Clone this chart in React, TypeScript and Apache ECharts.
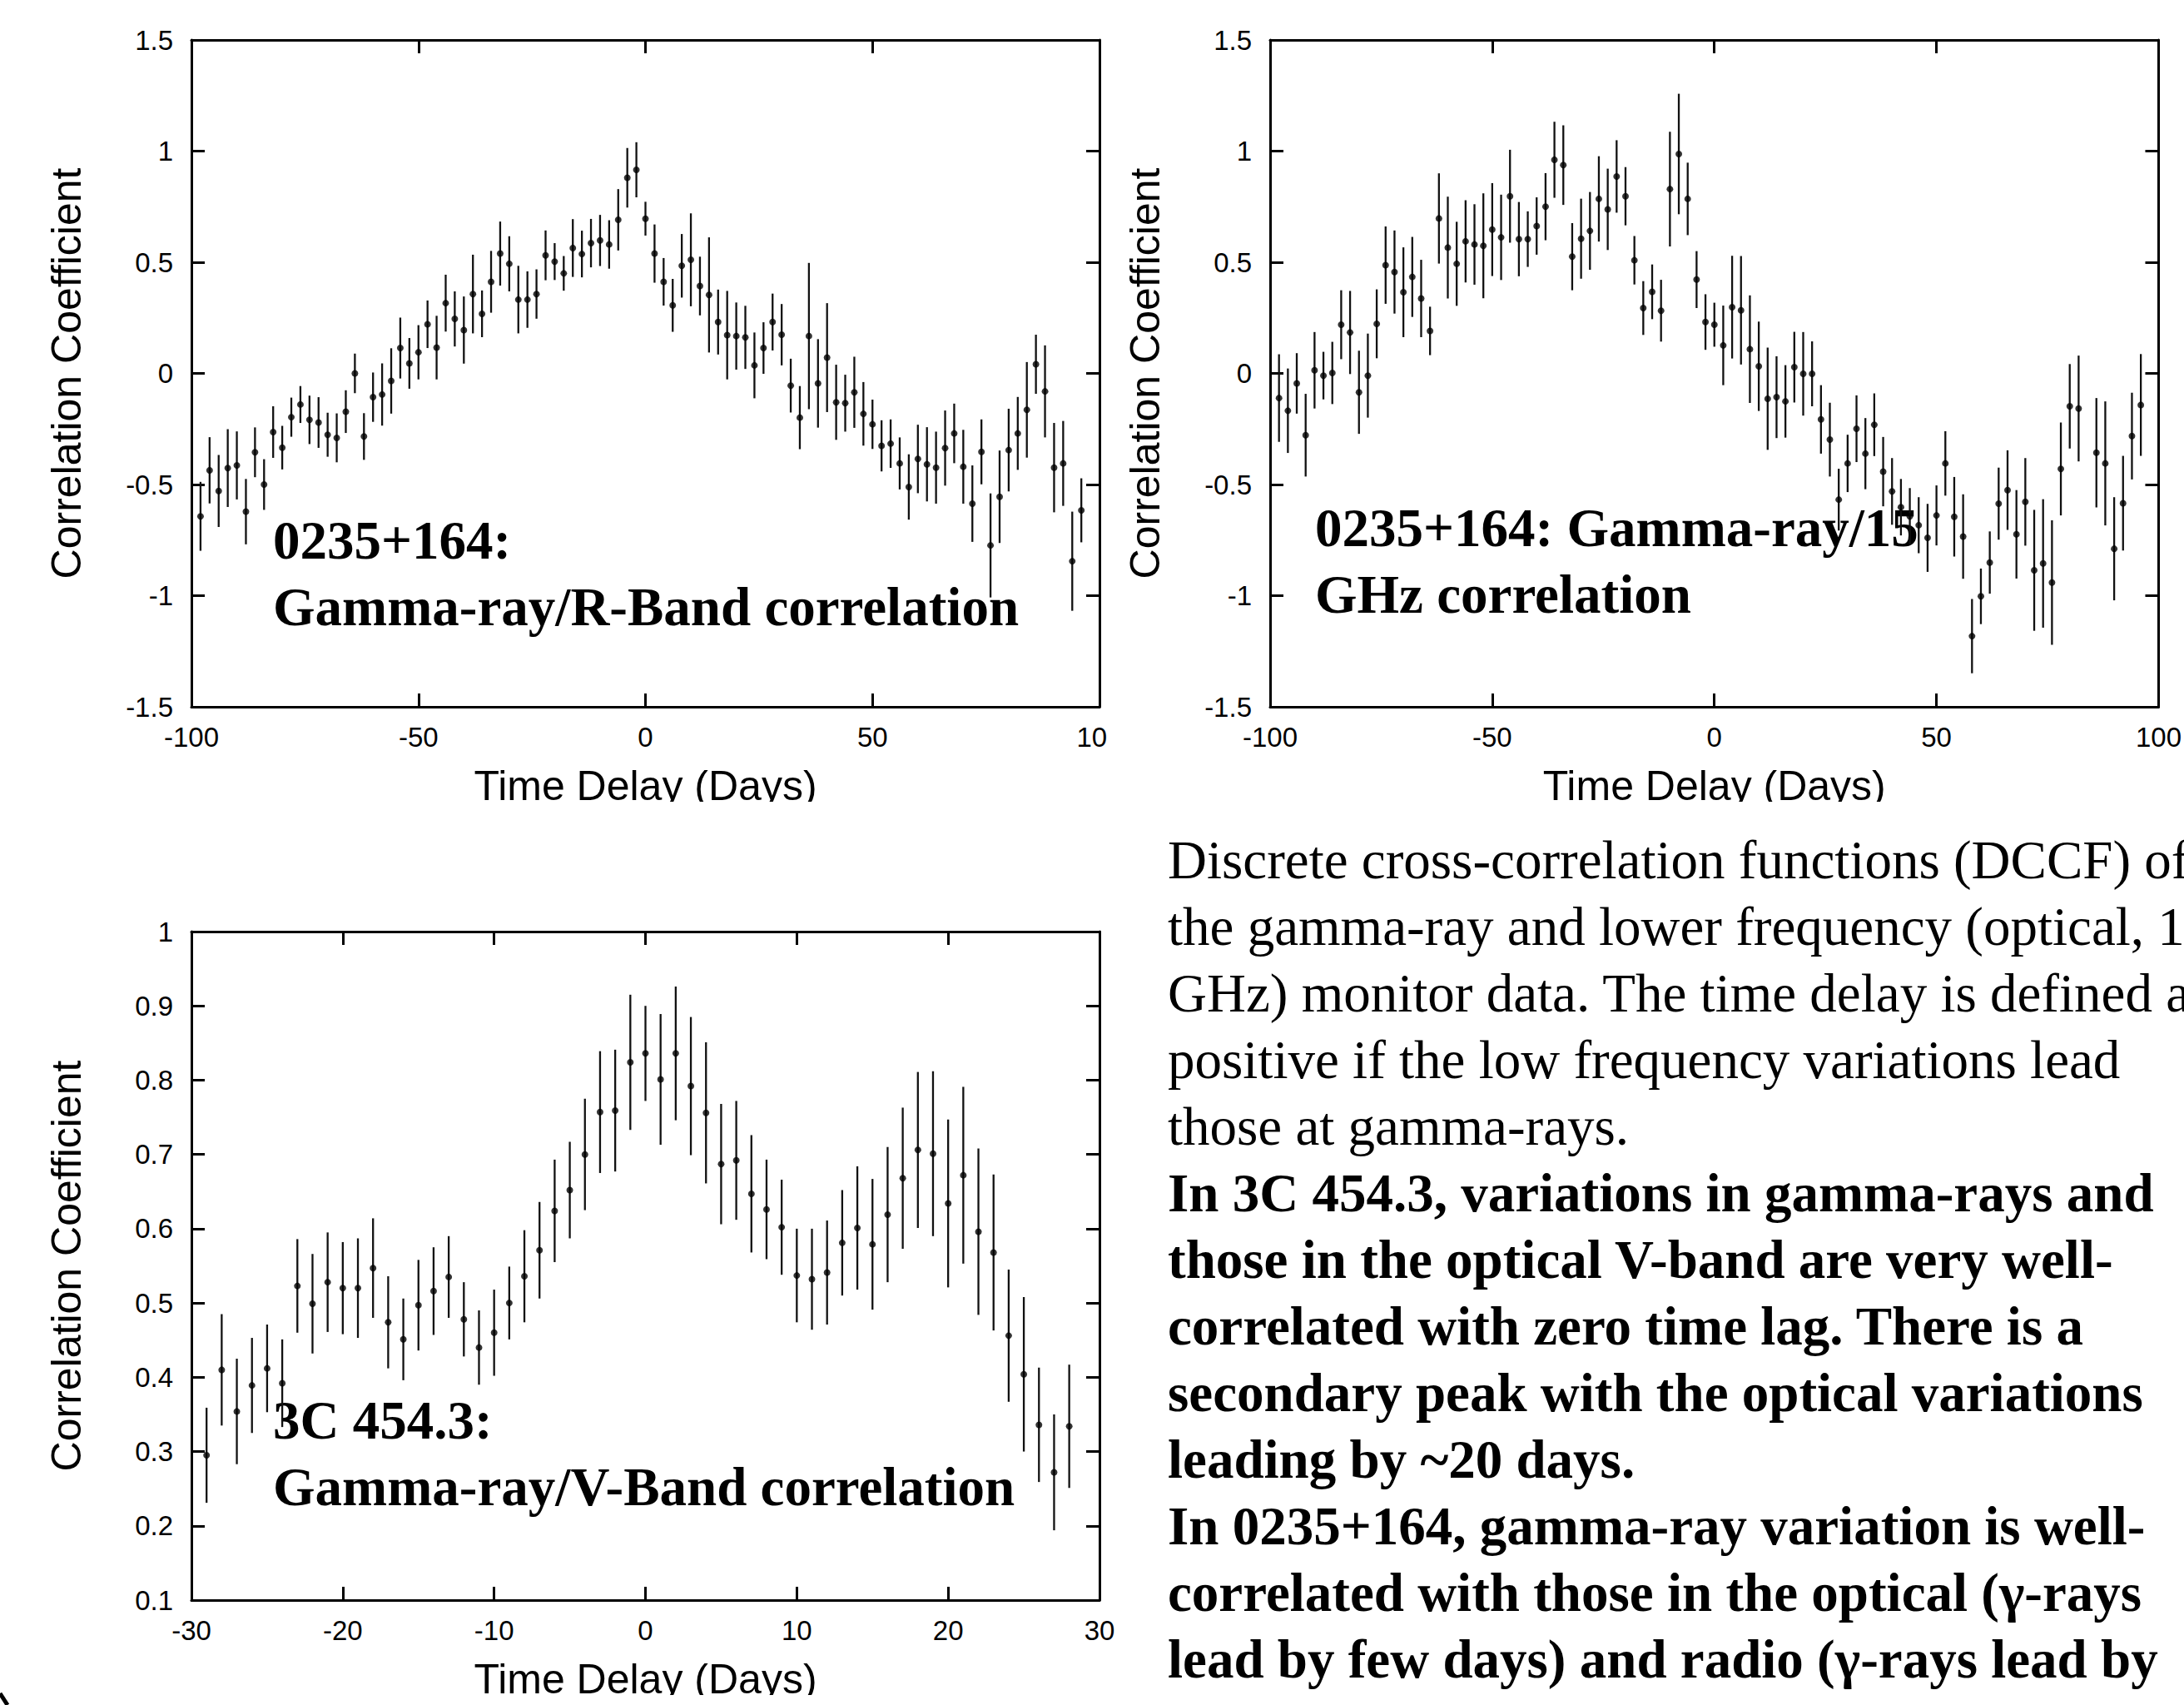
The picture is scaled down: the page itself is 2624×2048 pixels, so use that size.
import React, { useEffect, useRef } from "react";
import * as echarts from "echarts";

// ---------- DATA ----------
// Panel 1: 0235+164 gamma-ray / R-band DCCF
const lagsRBand = [-98,-96,-94,-92,-90,-88,-86,-84,-82,-80,-78,-76,-74,-72,-70,-68,-66,-64,-62,-60,-58,-56,-54,-52,-50,-48,-46,-44,-42,-40,-38,-36,-34,-32,-30,-28,-26,-24,-22,-20,-18,-16,-14,-12,-10,-8,-6,-4,-2,0,2,4,6,8,10,12,14,16,18,20,22,24,26,28,30,32,34,36,38,40,42,44,46,48,50,52,54,56,58,60,62,64,66,68,70,72,74,76,78,80,82,84,86,88,90,92,94,96];
const corrRBand = [-0.643,-0.436,-0.529,-0.426,-0.414,-0.622,-0.355,-0.500,-0.264,-0.334,-0.197,-0.140,-0.209,-0.221,-0.276,-0.290,-0.172,0.000,-0.284,-0.107,-0.095,-0.034,0.114,0.045,0.095,0.221,0.116,0.316,0.245,0.195,0.357,0.268,0.412,0.539,0.493,0.332,0.332,0.357,0.531,0.503,0.450,0.564,0.537,0.586,0.598,0.580,0.691,0.880,0.916,0.696,0.539,0.412,0.306,0.484,0.511,0.393,0.353,0.231,0.172,0.168,0.162,0.036,0.114,0.231,0.174,-0.055,-0.199,0.168,-0.045,0.071,-0.130,-0.134,-0.085,-0.182,-0.229,-0.326,-0.316,-0.405,-0.511,-0.385,-0.409,-0.424,-0.336,-0.270,-0.420,-0.586,-0.353,-0.774,-0.555,-0.345,-0.270,-0.164,0.041,-0.081,-0.424,-0.405,-0.845,-0.616];
const errRBand = [0.155,0.149,0.162,0.175,0.153,0.147,0.112,0.114,0.116,0.098,0.088,0.083,0.109,0.114,0.099,0.110,0.096,0.089,0.105,0.111,0.140,0.147,0.137,0.114,0.122,0.107,0.143,0.128,0.124,0.151,0.177,0.105,0.139,0.144,0.124,0.152,0.127,0.111,0.112,0.083,0.078,0.130,0.105,0.109,0.115,0.109,0.138,0.134,0.124,0.076,0.131,0.107,0.119,0.143,0.209,0.132,0.259,0.146,0.199,0.151,0.142,0.148,0.116,0.128,0.138,0.121,0.142,0.329,0.199,0.245,0.169,0.128,0.160,0.143,0.111,0.115,0.109,0.117,0.147,0.154,0.167,0.162,0.169,0.134,0.166,0.172,0.146,0.234,0.208,0.186,0.164,0.215,0.133,0.207,0.201,0.191,0.223,0.144];

// Panel 2: 0235+164 gamma-ray / 15 GHz DCCF
const lagsRadio = [-98,-96,-94,-92,-90,-88,-86,-84,-82,-80,-78,-76,-74,-72,-70,-68,-66,-64,-62,-60,-58,-56,-54,-52,-50,-48,-46,-44,-42,-40,-38,-36,-34,-32,-30,-28,-26,-24,-22,-20,-18,-16,-14,-12,-10,-8,-6,-4,-2,0,2,4,6,8,10,12,14,16,18,20,22,24,26,28,30,32,34,36,38,40,42,44,46,48,50,52,54,56,58,60,62,64,66,68,70,72,74,76,78,80,82,86,88,90,92,94,96];
const corrRadio = [-0.111,-0.168,-0.045,-0.278,0.014,-0.010,0.002,0.219,0.184,-0.085,-0.010,0.223,0.487,0.456,0.365,0.434,0.337,0.191,0.697,0.566,0.493,0.594,0.580,0.574,0.647,0.612,0.797,0.604,0.604,0.663,0.750,0.961,0.937,0.525,0.606,0.641,0.785,0.738,0.886,0.797,0.509,0.294,0.367,0.282,0.829,0.987,0.785,0.422,0.231,0.219,0.126,0.298,0.284,0.109,0.032,-0.114,-0.107,-0.126,0.028,-0.002,-0.002,-0.207,-0.298,-0.568,-0.405,-0.249,-0.361,-0.231,-0.442,-0.531,-0.602,-0.643,-0.683,-0.740,-0.639,-0.405,-0.645,-0.734,-1.182,-1.003,-0.851,-0.586,-0.525,-0.724,-0.578,-0.886,-0.855,-0.941,-0.430,-0.148,-0.158,-0.357,-0.405,-0.789,-0.584,-0.282,-0.142];
const errRadio = [0.197,0.190,0.136,0.186,0.172,0.107,0.140,0.155,0.187,0.187,0.189,0.155,0.174,0.187,0.202,0.180,0.174,0.109,0.203,0.229,0.189,0.185,0.181,0.236,0.209,0.192,0.209,0.167,0.125,0.129,0.151,0.171,0.179,0.151,0.180,0.175,0.192,0.183,0.163,0.131,0.109,0.121,0.123,0.139,0.258,0.271,0.163,0.128,0.125,0.099,0.179,0.231,0.244,0.242,0.201,0.230,0.184,0.163,0.159,0.188,0.146,0.154,0.166,0.139,0.129,0.150,0.160,0.141,0.156,0.150,0.127,0.127,0.126,0.153,0.135,0.145,0.179,0.190,0.167,0.125,0.140,0.162,0.179,0.199,0.197,0.272,0.289,0.280,0.209,0.190,0.238,0.246,0.279,0.232,0.213,0.195,0.229];

// Panel 3: 3C 454.3 gamma-ray / V-band DCCF
const lags3C = [-29,-28,-27,-26,-25,-24,-23,-22,-21,-20,-19,-18,-17,-16,-15,-14,-13,-12,-11,-10,-9,-8,-7,-6,-5,-4,-3,-2,-1,0,1,2,3,4,5,6,7,8,9,10,11,12,13,14,15,16,17,18,19,20,21,22,23,24,25,26,27,28];
const corr3C = [0.295,0.410,0.354,0.389,0.412,0.392,0.523,0.499,0.528,0.520,0.520,0.547,0.474,0.451,0.497,0.516,0.535,0.478,0.440,0.460,0.500,0.536,0.571,0.624,0.652,0.700,0.757,0.759,0.824,0.836,0.801,0.836,0.792,0.756,0.687,0.692,0.647,0.626,0.602,0.537,0.532,0.541,0.581,0.601,0.579,0.619,0.668,0.706,0.701,0.634,0.672,0.596,0.568,0.456,0.404,0.336,0.272,0.334];
const err3C = [0.064,0.075,0.071,0.064,0.059,0.059,0.063,0.067,0.067,0.062,0.067,0.067,0.062,0.055,0.061,0.059,0.055,0.050,0.050,0.058,0.049,0.062,0.065,0.069,0.065,0.075,0.082,0.082,0.091,0.064,0.088,0.090,0.093,0.095,0.081,0.080,0.079,0.067,0.064,0.063,0.068,0.070,0.071,0.083,0.088,0.091,0.095,0.105,0.111,0.113,0.119,0.112,0.105,0.089,0.104,0.077,0.078,0.083];

// Axis ranges
const xRangeLong = { min: -100, max: 100, interval: 50 };
const yRangeLong = { min: -1.5, max: 1.5, interval: 0.5 };
const xRange3C = { min: -30, max: 30, interval: 10 };
const yRange3C = { min: 0.1, max: 1.0, interval: 0.1 };

// Texts
const xTitle = "Time Delay (Days)";
const yTitle = "Correlation Coefficient";
const label1 = ["0235+164:", "Gamma-ray/R-Band correlation"];
const label2 = ["0235+164: Gamma-ray/15", "GHz correlation"];
const label3 = ["3C 454.3:", "Gamma-ray/V-Band correlation"];
const descriptionLines = [
  "Discrete cross-correlation functions (DCCF) of",
  "the gamma-ray and lower frequency (optical, 15",
  "GHz) monitor data. The time delay is defined as",
  "positive if the low frequency variations lead",
  "those at gamma-rays.",
];
const findingsLines = [
  "In 3C 454.3, variations in gamma-rays and",
  "those in the optical V-band are very well-",
  "correlated with zero time lag. There is a",
  "secondary peak with the optical variations",
  "leading by ~20 days.",
  "In 0235+164, gamma-ray variation is well-",
  "correlated with those in the optical (\u03b3-rays",
  "lead by few days) and radio (\u03b3-rays lead by",
];

// ---------- STYLE / LAYOUT ----------
const SANS = '"Liberation Sans", Arial, Helvetica, sans-serif';
const SERIF = '"Liberation Serif", "Times New Roman", serif';
const TICK_FS = 33;
const TITLE_FS = 50;
const SERIF_FS = 65;

const grids = [
  { left: 230, top: 48, width: 1091, height: 801 },
  { left: 1526, top: 48, width: 1091, height: 801 },
  { left: 230, top: 1119, width: 1091, height: 803 },
];

const fmt = (v: number) => String(Number(v.toFixed(1)));

function xAxes(gi: number, r: any) {
  const common = {
    type: "value",
    gridIndex: gi,
    min: r.min,
    max: r.max,
    interval: r.interval,
    splitLine: { show: false },
    axisLine: { show: true, onZero: false, lineStyle: { color: "#000", width: 3 } },
    axisTick: { show: true, inside: true, length: 16, lineStyle: { color: "#000", width: 3 } },
  };
  return [
    {
      ...common,
      position: "bottom",
      axisLabel: { show: true, color: "#000", fontSize: TICK_FS, fontFamily: SANS, margin: 20, formatter: fmt },
      name: xTitle,
      nameLocation: "middle",
      nameGap: 70,
      nameTextStyle: { color: "#000", fontSize: TITLE_FS, fontFamily: SANS },
    },
    { ...common, position: "top", axisLabel: { show: false } },
  ];
}

function yAxes(gi: number, r: any) {
  const common = {
    type: "value",
    gridIndex: gi,
    min: r.min,
    max: r.max,
    interval: r.interval,
    splitLine: { show: false },
    axisLine: { show: true, onZero: false, lineStyle: { color: "#000", width: 3 } },
    axisTick: { show: true, inside: true, length: 16, lineStyle: { color: "#000", width: 3 } },
  };
  return [
    {
      ...common,
      position: "left",
      axisLabel: { show: true, color: "#000", fontSize: TICK_FS, fontFamily: SANS, margin: 22, formatter: fmt },
      name: yTitle,
      nameLocation: "middle",
      nameRotate: 90,
      nameGap: 125,
      nameTextStyle: { color: "#000", fontSize: TITLE_FS, fontFamily: SANS },
    },
    { ...common, position: "right", axisLabel: { show: false } },
  ];
}

function panelSeries(gi: number, lags: number[], corr: number[], err: number[]) {
  const errData = lags.map((l, i) => [l, corr[i], err[i]]);
  const ptData = lags.map((l, i) => [l, corr[i]]);
  return [
    {
      type: "custom",
      xAxisIndex: gi * 2,
      yAxisIndex: gi * 2,
      z: 3,
      encode: { x: 0, y: 1 },
      data: errData,
      renderItem: (_p: any, api: any) => {
        const x = api.value(0);
        const y = api.value(1);
        const e = api.value(2);
        const a = api.coord([x, y - e]);
        const b = api.coord([x, y + e]);
        return {
          type: "line",
          shape: { x1: a[0], y1: a[1], x2: b[0], y2: b[1] },
          style: { stroke: "#111", lineWidth: 2.3 },
        };
      },
    },
    {
      type: "scatter",
      xAxisIndex: gi * 2,
      yAxisIndex: gi * 2,
      z: 4,
      symbol: "circle",
      symbolSize: 8,
      itemStyle: { color: "#000" },
      data: ptData,
    },
  ];
}

function serifText(text: string, x: number, y: number, bold: boolean) {
  return {
    type: "text",
    x,
    y,
    z: 1,
    silent: true,
    style: {
      text,
      fill: "#000",
      fontFamily: SERIF,
      fontSize: SERIF_FS,
      fontWeight: bold ? "bold" : "normal",
      align: "left",
      verticalAlign: "middle",
    },
  };
}

function buildOption() {
  const graphic: any[] = [];
  label1.forEach((t, i) => graphic.push(serifText(t, 328, 649 + i * 80, true)));
  label2.forEach((t, i) => graphic.push(serifText(t, 1580, 634 + i * 80, true)));
  label3.forEach((t, i) => graphic.push(serifText(t, 328, 1706 + i * 80, true)));
  descriptionLines.forEach((t, i) => graphic.push(serifText(t, 1403, 1033 + i * 80, false)));
  findingsLines.forEach((t, i) =>
    graphic.push(serifText(t, 1403, 1033 + (i + descriptionLines.length) * 80, true))
  );
  // cropping of the original slide (white masks)
  graphic.push({ type: "rect", z: 100, silent: true, shape: { x: 0, y: 963, width: 2624, height: 40 }, style: { fill: "#fff" } });
  graphic.push({ type: "rect", z: 100, silent: true, shape: { x: 1331, y: 856, width: 90, height: 70 }, style: { fill: "#fff" } });
  graphic.push({ type: "rect", z: 100, silent: true, shape: { x: 200, y: 2036, width: 1200, height: 12 }, style: { fill: "#fff" } });
  // corner mark of the slide
  graphic.push({ type: "line", z: 100, silent: true, shape: { x1: 0, y1: 2034, x2: 9, y2: 2048 }, style: { stroke: "#000", lineWidth: 5 } });

  return {
    animation: false,
    backgroundColor: "#fff",
    grid: grids,
    xAxis: [...xAxes(0, xRangeLong), ...xAxes(1, xRangeLong), ...xAxes(2, xRange3C)],
    yAxis: [...yAxes(0, yRangeLong), ...yAxes(1, yRangeLong), ...yAxes(2, yRange3C)],
    series: [
      ...panelSeries(0, lagsRBand, corrRBand, errRBand),
      ...panelSeries(1, lagsRadio, corrRadio, errRadio),
      ...panelSeries(2, lags3C, corr3C, err3C),
    ],
    graphic,
  };
}

export default function App() {
  const ref = useRef<HTMLDivElement>(null);
  useEffect(() => {
    document.body.style.margin = "0";
    document.body.style.overflow = "hidden";
    const chart = echarts.init(ref.current as HTMLDivElement, null, { renderer: "svg", width: 2624, height: 2048 });
    chart.setOption(buildOption() as any);
    return () => chart.dispose();
  }, []);
  return <div ref={ref} style={{ width: 2624, height: 2048, background: "#fff" }} />;
}
